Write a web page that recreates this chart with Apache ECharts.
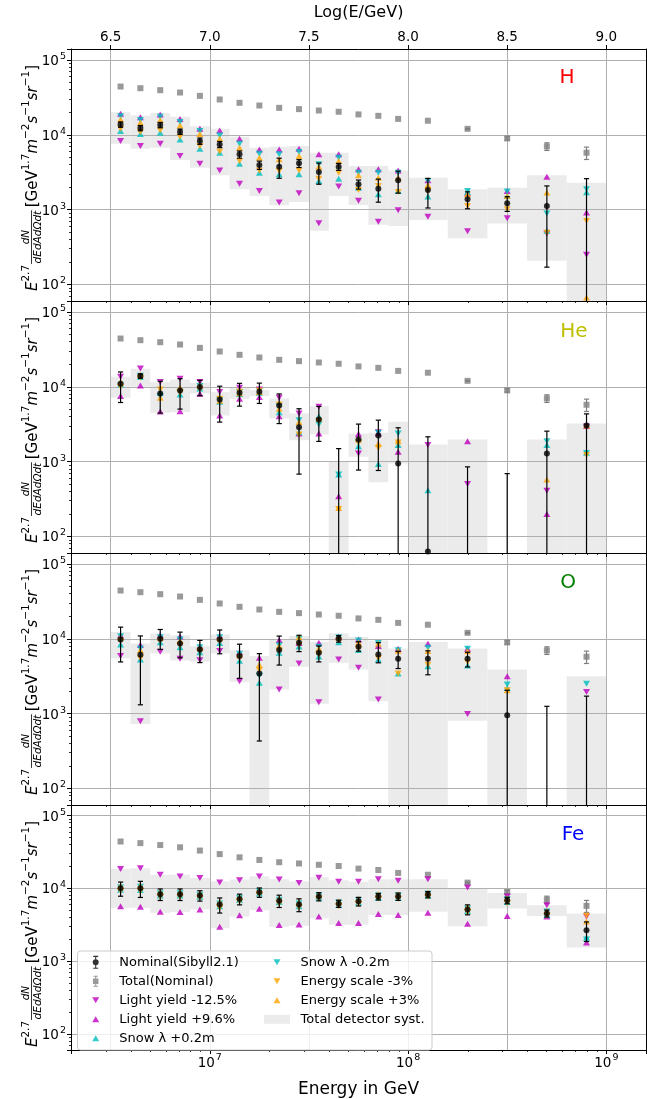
<!DOCTYPE html>
<html><head><meta charset="utf-8">
<script src="https://cdn.jsdelivr.net/npm/echarts@6/dist/echarts.min.js"></script>
<style>html,body{margin:0;padding:0;background:#fff}#c{width:647px;height:1099px}</style>
</head><body><div id="c"></div><script>
// ---------------- DATA ----------------
const logE = [6.55,6.65,6.75,6.85,6.95,7.05,7.15,7.25,7.35,7.45,7.55,7.65,7.75,7.85,7.95,8.1,8.3,8.5,8.7,8.9];
const binEdges = [6.5,6.6,6.7,6.8,6.9,7.0,7.1,7.2,7.3,7.4,7.5,7.6,7.7,7.8,7.9,8.0,8.2,8.4,8.6,8.8,9.0];
const topTickLabels = ['6.5','7.0','7.5','8.0','8.5','9.0'];
const yTickExponents = [2,3,4,5];
const xTickExponents = [7,8,9];

const totalFlux = [44100,41900,39400,36700,33100,29600,26700,24600,22900,22000,21100,20300,18700,17900,16300,15400,12000,8940,6990,5750];
const totalErr  = [0,0,0,0,0,0,0,0,0,0,0,0,0,0,0,0,200,450,820,1080];

const H_nom   = [13700,12300,13500,11000,8240,7430,5470,3940,3740,4150,3180,3740,2180,1905,2460,1830,1375,1215,1120,30];
const H_errUp = [1100,1000,1100,900,800,700,600,500,1120,500,1000,400,300,650,800,780,350,270,950,2560];
const H_errDn = [1100,1000,1100,900,800,700,600,500,1120,500,1000,400,300,650,800,780,350,270,950,30];
const H_lyM   = [8240,7060,7590,5200,4100,3340,2220,1770,1240,1650,658,2030,1310,685,980,800,514,766,479,249];
const H_lyP   = [19050,17200,18700,16300,12000,11400,8850,6370,6370,6500,5470,5470,3450,3450,3340,2460,1650,1770,2750,912];
const H_snP   = [11200,10200,10600,8660,6500,5750,4100,3110,2960,2960,2410,2590,1960,1600,1770,1490,1720,1520,520,1700];
const H_snM   = [17700,15700,17400,14800,11200,9800,7590,5580,5470,5870,4020,4940,3110,3110,3110,2410,1770,1740,885,1870];
const H_esM   = [12000,10900,11500,9400,7060,5990,4460,3340,3280,3340,2590,3110,1830,2070,1720,1770,1120,1010,490,706];
const H_esP   = [16000,14500,15700,13300,10200,8850,6710,4940,4690,5200,3740,4460,2870,2670,2670,2130,1600,1520,1690,67];
const H_boxLo = [7590,6500,6710,4590,3630,2870,1870,1520,1140,1260,520,1520,1150,625,605,728,415,650,207,30];
const H_boxHi = [20000,18100,19500,17400,13000,12000,9400,6710,6920,7060,5750,5750,3820,3820,3340,2670,1870,1960,2870,2290];

const He_nom   = [10960,13900,8150,8930,9900,6770,8310,8580,5620,2880,3660,40,1970,2230,940,63,40,30,1280,3030];
const He_errUp = [4800,900,3700,3900,2300,3400,2800,2600,2400,2200,1800,1450,1200,1350,1890,2080,810,660,1270,1310];
const He_errDn = [4800,900,3700,3900,2300,3400,2800,2600,2400,2200,1800,40,1200,1470,940,63,40,30,1280,3030];
const He_lyM   = [13600,17600,11550,12800,11550,8480,9700,9210,7130,4400,5390,null,1280,2470,null,1660,502,null,409,2950];
const He_lyP   = [7500,10400,4680,4720,8060,4130,6900,7280,4050,2370,2370,344,2330,2400,1350,null,1870,null,199,3000];
const He_snP   = [10700,13500,8310,7890,9500,6300,8000,8300,4580,2470,4050,670,1600,930,1660,413,null,null,1660,1310];
const He_snM   = [10400,14000,7500,8480,10200,6600,8500,8800,5510,3580,3130,670,1780,2420,2370,null,null,null,1870,1300];
const He_esP   = [11550,14500,7130,9700,10500,6500,8200,8500,5070,3370,3730,240,1970,1740,1870,null,null,null,574,3030];
const He_esM   = [10000,13200,9210,8310,9300,6900,8600,8900,5800,2300,3500,232,1780,1520,1800,null,null,null,null,1220];
const He_boxLo = [7130,10000,4490,4580,8150,4130,6900,7500,3770,1930,2300,30,1160,528,940,30,30,null,30,30];
const He_boxHi = [13600,17400,11550,12500,11300,8480,9700,9020,6980,4400,5510,990,2370,2420,3400,1690,1970,null,1970,3230];

const O_nom   = [9800,6110,10000,8660,7200,9800,5860,3430,7050,8830,6500,10000,7820,6170,5400,5400,5400,950,30,30];
const O_errUp = [4500,4800,3300,3600,2300,3300,2600,2900,3800,2300,1500,1000,1300,2700,1400,1500,1200,1100,1220,1680];
const O_errDn = [4900,4800,2800,3100,2400,3500,2900,3000,2600,2100,1600,1000,1000,1400,1400,2100,1200,950,30,30];
const O_lyM   = [5860,788,6690,5400,5180,6840,2710,null,2090,4680,1420,5280,4090,1540,null,null,990,null,null,1950];
const O_lyP   = [11100,8230,11100,10700,7900,11000,6600,5570,9600,8800,8830,10700,9800,8000,7350,8580,7350,3160,null,null];
const O_snP   = [8400,5300,9000,7700,6600,8800,5100,2580,6500,7900,5800,9000,7100,5300,3430,4300,4400,2200,null,null];
const O_snM   = [10800,7400,10500,9800,7700,10500,6300,3200,8200,10000,7800,10500,9500,8800,7000,7600,7350,2440,null,2500];
const O_esP   = [10500,7000,10300,9300,7500,10200,6100,4500,8000,10500,7400,10300,8900,8600,6900,6840,6800,2050,null,null];
const O_esM   = [9300,5500,9400,8200,6900,9200,5500,3800,6900,8300,6200,9500,7300,5500,3430,4500,4900,2050,null,null];
const O_boxLo = [5460,728,6370,5130,4920,6370,2660,30,2090,4220,1350,4770,3880,1460,30,30,805,30,null,30];
const O_boxHi = [12300,8660,11700,11100,7980,11400,7050,5860,9800,10900,9020,11800,10600,9500,7430,9020,7430,3880,null,3160];

const Fe_nom   = [10000,10000,8310,8310,7980,5980,7130,8830,6760,5980,7730,6170,6630,7730,7730,8230,5130,6840,4530,2660];
const Fe_errUp = [2200,2500,1500,1500,1300,1400,1200,1300,1300,1200,1000,700,900,800,900,800,800,700,500,800];
const Fe_errDn = [2200,2500,1500,1500,1300,1400,1200,1300,1300,1200,1000,700,900,800,900,800,800,700,500,800];
const Fe_lyM   = [18500,18900,15400,14600,13900,12000,12900,14600,13200,11900,14000,12300,12300,13300,12700,13300,10300,7730,5860,4100];
const Fe_lyP   = [5680,5570,4770,4720,5130,2970,4260,5240,3130,3190,4090,3330,3330,4440,4300,4620,3260,4180,4090,1800];
const Fe_snP   = [9600,9500,8000,8000,7700,5700,6900,8500,6500,5700,7500,5900,6400,7400,7400,7900,4900,6500,4300,2100];
const Fe_snM   = [10400,10500,8600,8600,8200,6200,7400,9100,7000,6200,8000,6400,6900,8000,8000,8500,5300,7100,4800,1990];
const Fe_esP   = [10900,10900,8900,8900,8500,6500,7600,9300,7200,6400,8200,6600,7100,8300,8300,8800,5600,7300,4900,3510];
const Fe_esM   = [9200,9200,7700,7700,7400,5400,6600,8300,6200,5500,7200,5700,6100,7200,7200,7700,4700,6300,4200,4220];
const Fe_boxLo = [5400,5400,4620,4720,5130,2830,4100,5020,2970,3070,3880,3160,3160,4300,4300,4770,3010,5280,4180,1540];
const Fe_boxHi = [18500,18900,15400,15400,13900,12500,13200,14600,13300,12500,14300,12900,12300,13300,13300,13300,10100,8660,5860,4530];

const panelNames  = ['H','He','O','Fe'];
const panelColors = ['#ff0000','#bfbf00','#008000','#0000ff'];
const panelData = [
  {nom:H_nom, up:H_errUp, dn:H_errDn, lyM:H_lyM, lyP:H_lyP, snP:H_snP, snM:H_snM, esM:H_esM, esP:H_esP, bLo:H_boxLo, bHi:H_boxHi},
  {nom:He_nom, up:He_errUp, dn:He_errDn, lyM:He_lyM, lyP:He_lyP, snP:He_snP, snM:He_snM, esM:He_esM, esP:He_esP, bLo:He_boxLo, bHi:He_boxHi},
  {nom:O_nom, up:O_errUp, dn:O_errDn, lyM:O_lyM, lyP:O_lyP, snP:O_snP, snM:O_snM, esM:O_esM, esP:O_esP, bLo:O_boxLo, bHi:O_boxHi},
  {nom:Fe_nom, up:Fe_errUp, dn:Fe_errDn, lyM:Fe_lyM, lyP:Fe_lyP, snP:Fe_snP, snM:Fe_snM, esM:Fe_esM, esP:Fe_esP, bLo:Fe_boxLo, bHi:Fe_boxHi}
];

// ---------------- LAYOUT ----------------
const FONT = 'DejaVu Sans';
const GL = 71, GW = 575, GH = 252;
const GTOPS = [49, 301, 553, 805];
const XMIN = Math.pow(10, 6.3), XMAX = Math.pow(10, 9.2);
const YMIN = 60, YMAX = 140000;

const MAG = '#bf00bf', CYA = '#00bfbf', ORA = '#ffa500', GRY = '#808080';

const E = l => Math.pow(10, l);

function powLabel(v, list) {
  const e = Math.round(Math.log10(v));
  if (Math.abs(v / Math.pow(10, e) - 1) > 1e-6 || list.indexOf(e) < 0) return '';
  return '{b|10}{s|' + e + '}';
}
const richPow = {
  b: {fontSize: 13.5, fontFamily: FONT, color: '#000', lineHeight: 17, verticalAlign: 'bottom'},
  s: {fontSize: 9.5, fontFamily: FONT, color: '#000', lineHeight: 17, verticalAlign: 'top', padding: [0,0,0,1]}
};

function errRender(color) {
  return function (params, api) {
    const x = api.value(0), lo = api.value(1), hi = api.value(2);
    const a = api.coord([x, hi]), b = api.coord([x, lo]);
    const c = 2.6, st = {stroke: color, lineWidth: 1.2};
    return {type: 'group', children: [
      {type: 'line', shape: {x1: a[0], y1: a[1], x2: b[0], y2: b[1]}, style: st},
      {type: 'line', shape: {x1: a[0]-c, y1: a[1], x2: a[0]+c, y2: a[1]}, style: st},
      {type: 'line', shape: {x1: b[0]-c, y1: b[1], x2: b[0]+c, y2: b[1]}, style: st}
    ]};
  };
}
function boxRender(params, api) {
  const p1 = api.coord([api.value(0), api.value(3)]);
  const p2 = api.coord([api.value(1), api.value(2)]);
  return {type: 'rect', shape: {x: p1[0], y: p1[1], width: p2[0]-p1[0], height: p2[1]-p1[1]},
          style: {fill: '#ebebeb'}};
}

const grids = [], xAxes = [], yAxes = [], series = [], graphics = [];

for (let p = 0; p < 4; p++) {
  grids.push({left: GL, top: GTOPS[p], width: GW, height: GH, show: false, containLabel: false});
  // bottom log energy axis
  xAxes.push({
    type: 'log', logBase: 10, gridIndex: p, position: 'bottom', min: XMIN, max: XMAX, z: 1.5,
    axisLine: {show: true, onZero: false, lineStyle: {color: '#000', width: 1}},
    axisTick: {show: true, inside: false, length: 4, lineStyle: {color: '#000', width: 1}},
    minorTick: {show: true, splitNumber: 9, length: 2, lineStyle: {color: '#000', width: 0.8}},
    splitLine: {show: false}, minorSplitLine: {show: false},
    axisLabel: {show: p === 3, margin: 3, showMinLabel: false, showMaxLabel: false,
                formatter: v => powLabel(v, xTickExponents), rich: richPow},
    name: p === 3 ? 'Energy in GeV' : '', nameLocation: 'middle', nameGap: 31,
    nameTextStyle: {fontSize: 17, fontFamily: FONT, color: '#000'}
  });
  // top log10(E) axis
  xAxes.push({
    type: 'value', gridIndex: p, position: 'top', min: 6.3, max: 9.2, z: 1.5,
    axisLine: {show: true, onZero: false, lineStyle: {color: '#000', width: 1}},
    axisTick: {show: p === 0, inside: false, length: 4, lineStyle: {color: '#000'}},
    splitLine: {show: true, lineStyle: {color: '#b0b0b0', width: 1}},
    axisLabel: {show: p === 0, margin: 5, showMinLabel: false, showMaxLabel: false,
                fontSize: 13.5, fontFamily: FONT, color: '#000',
                formatter: v => { const s = v.toFixed(1); return topTickLabels.indexOf(s) >= 0 ? s : ''; }},
    name: p === 0 ? 'Log(E/GeV)' : '', nameLocation: 'middle', nameGap: 28,
    nameTextStyle: {fontSize: 16, fontFamily: FONT, color: '#000'}
  });
  yAxes.push({
    type: 'log', logBase: 10, gridIndex: p, position: 'left', min: YMIN, max: YMAX, z: 1.5,
    axisLine: {show: true, onZero: false, lineStyle: {color: '#000', width: 1}},
    axisTick: {show: true, inside: false, length: 4, lineStyle: {color: '#000'}},
    minorTick: {show: true, splitNumber: 9, length: 2, lineStyle: {color: '#000', width: 0.8}},
    splitLine: {show: true, lineStyle: {color: '#b0b0b0', width: 1}},
    minorSplitLine: {show: false},
    axisLabel: {show: true, margin: 5, showMinLabel: false, showMaxLabel: false,
                formatter: v => powLabel(v, yTickExponents), rich: richPow}
  });
  yAxes.push({
    type: 'value', gridIndex: p, position: 'right', min: 0, max: 1, z: 1.5,
    axisLine: {show: true, onZero: false, lineStyle: {color: '#000', width: 1}},
    axisTick: {show: false}, axisLabel: {show: false}, splitLine: {show: false}
  });

  const d = panelData[p];
  const xi = 2 * p, yi = 2 * p;
  // boxes
  const boxData = [];
  for (let i = 0; i < logE.length; i++) {
    if (d.bLo[i] != null && d.bHi[i] != null) boxData.push([E(binEdges[i]), E(binEdges[i+1]), d.bLo[i], d.bHi[i]]);
  }
  series.push({type: 'custom', name: 'Total detector syst.', xAxisIndex: xi, yAxisIndex: yi, z: 1, clip: true, silent: true,
    itemStyle: {color: '#ebebeb'}, encode: {x: [0,1], y: [2,3]}, renderItem: boxRender, data: boxData});
  // total errorbars + squares
  const tErr = [], tPts = [];
  for (let i = 0; i < logE.length; i++) {
    tPts.push([E(logE[i]), totalFlux[i]]);
    if (totalErr[i] > 0) tErr.push([E(logE[i]), totalFlux[i] - totalErr[i], totalFlux[i] + totalErr[i]]);
  }
  series.push({type: 'custom', name: 'totErr', xAxisIndex: xi, yAxisIndex: yi, z: 2, clip: true, silent: true,
    encode: {x: 0, y: [1,2]}, renderItem: errRender(GRY), data: tErr});
  series.push({type: 'scatter', name: 'Total(Nominal)', xAxisIndex: xi, yAxisIndex: yi, z: 2, clip: true, silent: true,
    symbol: 'rect', symbolSize: 6, itemStyle: {color: GRY}, data: tPts});
  // variations
  const vars = [
    ['Light yield -12.5%', d.lyM, MAG, 180],
    ['Light yield +9.6%',  d.lyP, MAG, 0],
    ['Snow λ +0.2m',       d.snP, CYA, 0],
    ['Snow λ -0.2m',       d.snM, CYA, 180],
    ['Energy scale -3%',   d.esM, ORA, 180],
    ['Energy scale +3%',   d.esP, ORA, 0]
  ];
  vars.forEach(v => {
    const pts = [];
    for (let i = 0; i < logE.length; i++) if (v[1][i] != null && v[1][i] > 0) pts.push([E(logE[i]), v[1][i]]);
    series.push({type: 'scatter', name: v[0], xAxisIndex: xi, yAxisIndex: yi, z: 3, clip: true, silent: true,
      symbol: 'triangle', symbolRotate: v[3], symbolSize: [7, 6], itemStyle: {color: v[2]}, data: pts});
  });
  // nominal
  const nErr = [], nPts = [];
  for (let i = 0; i < logE.length; i++) {
    nPts.push([E(logE[i]), d.nom[i]]);
    nErr.push([E(logE[i]), Math.max(d.nom[i] - d.dn[i], 1), d.nom[i] + d.up[i]]);
  }
  series.push({type: 'custom', name: 'nomErr', xAxisIndex: xi, yAxisIndex: yi, z: 4, clip: true, silent: true,
    encode: {x: 0, y: [1,2]}, renderItem: errRender('#000'), data: nErr});
  series.push({type: 'scatter', name: 'Nominal(Sibyll2.1)', xAxisIndex: xi, yAxisIndex: yi, z: 4, clip: true, silent: true,
    symbol: 'circle', symbolSize: 6, itemStyle: {color: '#000'}, data: nPts});
}

// ---------- y-axis label (graphic, rotated) ----------
const cv = document.createElement('canvas').getContext('2d');
function mw(t, size, it) { cv.font = (it ? 'italic ' : '') + size + 'px "' + FONT + '"'; return cv.measureText(t).width; }
function yLabel(cx, cy) {
  const M = 15, S = 10.5, F = 10.5;
  const parts = [
    {t: 'E', s: M, it: true, dy: 0}, {t: '2.7', s: S, dy: -6.5}, {frac: true},
    {t: '[GeV', s: M, dy: 0}, {t: '1.7', s: S, dy: -6.5},
    {t: 'm', s: M, it: true, dy: 0}, {t: '−2', s: S, dy: -6.5},
    {t: 's', s: M, it: true, dy: 0}, {t: '−1', s: S, dy: -6.5},
    {t: 'sr', s: M, it: true, dy: 0}, {t: '−1', s: S, dy: -6.5},
    {t: ']', s: M, dy: 0}
  ];
  const kids = [];
  let x = 0;
  parts.forEach(pt => {
    if (pt.frac) {
      const wn = mw('dN', F, true), wd = mw('dEdAdΩdt', F, true);
      const fw = Math.max(wn, wd) + 3;
      kids.push({type: 'line', shape: {x1: x + 1, y1: -1.5, x2: x + fw - 1, y2: -1.5}, style: {stroke: '#000', lineWidth: 0.8}});
      kids.push({type: 'text', x: x + fw / 2, y: -7, style: {text: 'dN', font: 'italic ' + F + 'px "' + FONT + '"', fill: '#000', align: 'center', verticalAlign: 'middle', textAlign: 'center', textVerticalAlign: 'middle'}});
      kids.push({type: 'text', x: x + fw / 2, y: 5, style: {text: 'dEdAdΩdt', font: 'italic ' + F + 'px "' + FONT + '"', fill: '#000', align: 'center', verticalAlign: 'middle', textAlign: 'center', textVerticalAlign: 'middle'}});
      x += fw + 2;
    } else {
      kids.push({type: 'text', x: x, y: pt.dy, style: {text: pt.t, font: (pt.it ? 'italic ' : '') + pt.s + 'px "' + FONT + '"', fill: '#000', align: 'left', verticalAlign: 'middle', textAlign: 'left', textVerticalAlign: 'middle'}});
      x += mw(pt.t, pt.s, pt.it);
    }
  });
  return {type: 'group', x: cx, y: cy + x / 2, rotation: Math.PI / 2, children: kids, silent: true};
}
for (let p = 0; p < 4; p++) {
  graphics.push(yLabel(33, GTOPS[p] + GH / 2 + 3));
}
// panel names
const namePos = [[567, 78], [574, 332], [568, 583], [573, 835]];
for (let p = 0; p < 4; p++) {
  graphics.push({type: 'text', x: namePos[p][0], y: namePos[p][1], z: 5, silent: true,
    style: {text: panelNames[p], font: '20px "' + FONT + '"', fill: panelColors[p], align: 'center', verticalAlign: 'middle', textAlign: 'center', textVerticalAlign: 'middle'}});
}
// legend frame
graphics.push({type: 'rect', z: 10, silent: true, shape: {x: 77.5, y: 951, width: 354.5, height: 99, r: 3},
  style: {fill: 'rgba(255,255,255,0.8)', stroke: '#cccccc', lineWidth: 1}});

// legend icons (37.2 x 14 box)
const IC = {
  nom: 'path://M0,0 M37.2,14 M18.05,0.5 L19.15,0.5 L19.15,13.5 L18.05,13.5 Z M16.1,0.5 L21.1,0.5 L21.1,1.6 L16.1,1.6 Z M16.1,12.4 L21.1,12.4 L21.1,13.5 L16.1,13.5 Z M21.6,7 A3,3 0 1 1 15.6,7 A3,3 0 1 1 21.6,7 Z',
  tot: 'path://M0,0 M37.2,14 M18.1,1.5 L19.1,1.5 L19.1,12.5 L18.1,12.5 Z M16.4,1.5 L20.8,1.5 L20.8,2.5 L16.4,2.5 Z M16.4,11.5 L20.8,11.5 L20.8,12.5 L16.4,12.5 Z M15.85,4.25 L21.35,4.25 L21.35,9.75 L15.85,9.75 Z',
  dn: 'path://M0,0 M37.2,14 M15.1,4 L22.1,4 L18.6,10 Z',
  up: 'path://M0,0 M37.2,14 M15.1,10 L22.1,10 L18.6,4 Z',
  patch: 'path://M0,0 M37.2,14 M5.6,2.5 L31.6,2.5 L31.6,11.5 L5.6,11.5 Z'
};
const legendCommon = {orient: 'vertical', itemWidth: 37.2, itemHeight: 14, itemGap: 5, padding: 0, z: 11,
  selectedMode: false, symbolKeepAspect: true,
  textStyle: {fontSize: 13, fontFamily: FONT, color: '#000'}};

const option = {
  animation: false,
  backgroundColor: '#ffffff',
  grid: grids, xAxis: xAxes, yAxis: yAxes, series: series,
  legend: [
    Object.assign({left: 77.1, top: 955.3, data: [
      {name: 'Nominal(Sibyll2.1)', icon: IC.nom},
      {name: 'Total(Nominal)', icon: IC.tot},
      {name: 'Light yield -12.5%', icon: IC.dn},
      {name: 'Light yield +9.6%', icon: IC.up},
      {name: 'Snow λ +0.2m', icon: IC.up}
    ]}, legendCommon),
    Object.assign({left: 258.4, top: 955.3, data: [
      {name: 'Snow λ -0.2m', icon: IC.dn},
      {name: 'Energy scale -3%', icon: IC.dn},
      {name: 'Energy scale +3%', icon: IC.up},
      {name: 'Total detector syst.', icon: IC.patch}
    ]}, legendCommon)
  ],
  graphic: {elements: graphics}
};
const chart = echarts.init(document.getElementById('c'), null, {renderer: 'canvas', width: 647, height: 1099});
chart.setOption(option);
</script></body></html>
